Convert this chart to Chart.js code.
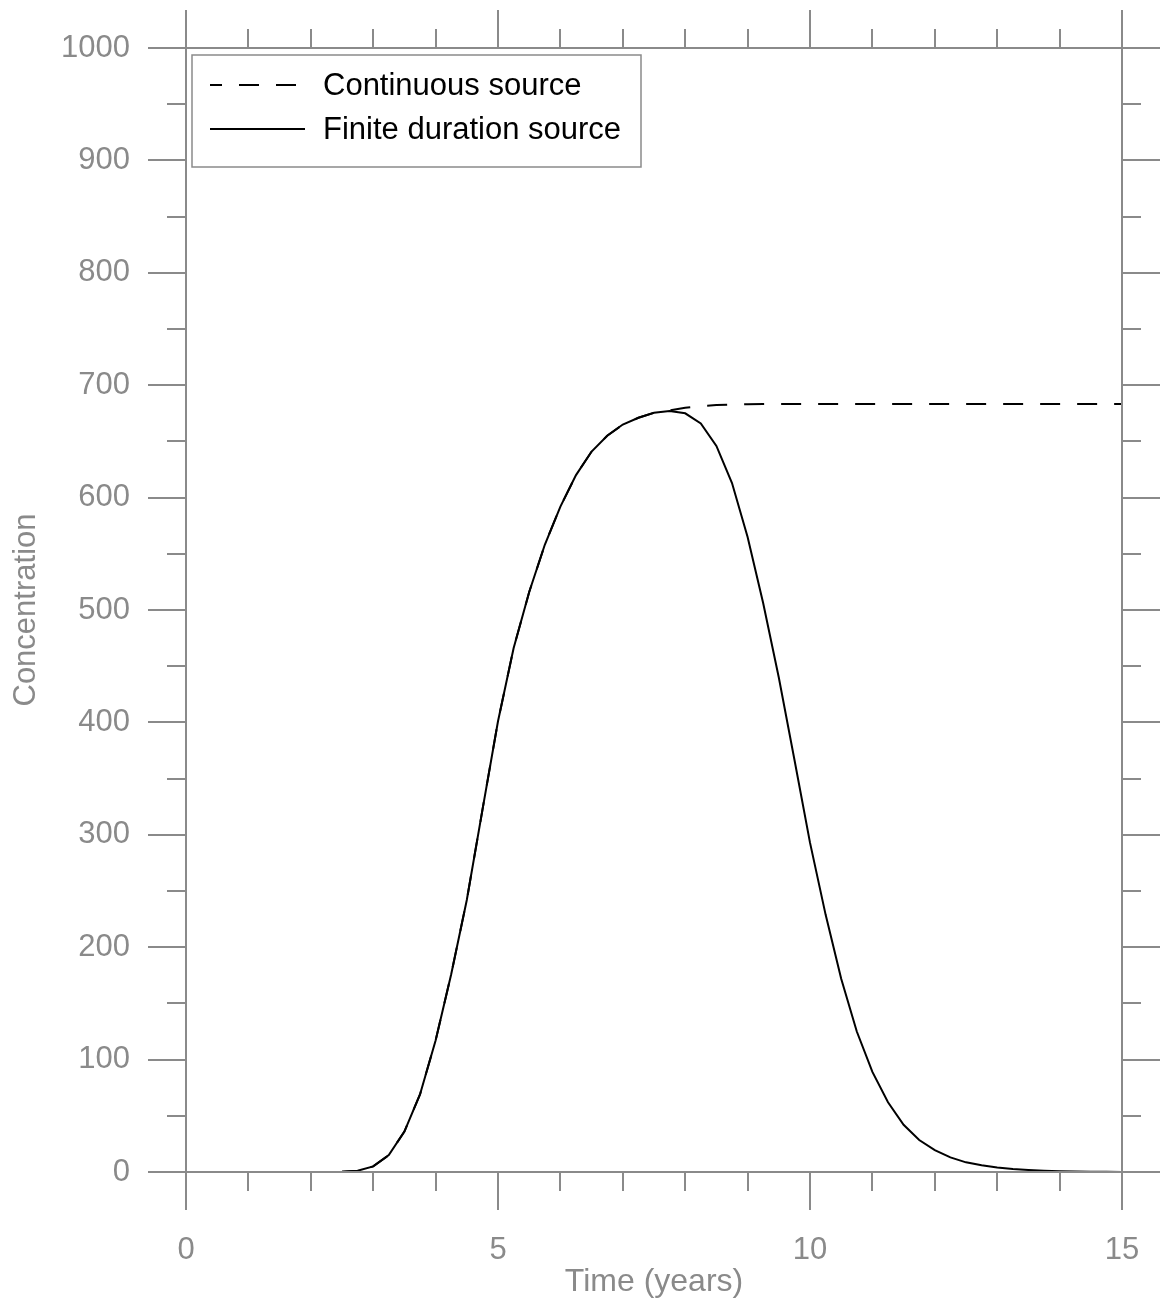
<!DOCTYPE html>
<html>
<head>
<meta charset="utf-8">
<script src="https://cdn.jsdelivr.net/npm/chart.js@4/dist/chart.umd.min.js"></script>
<style>
    body { margin: 0; background: #fff; }
    #wrap { width: 1161px; height: 1303px; position: relative; }
</style>
</head>
<body>
<div id="wrap"><canvas id="concGraph"></canvas></div>
<script>
// 時間 (年) 0.25刻み
const years = [
    0, 0.25, 0.5, 0.75, 1, 1.25, 1.5, 1.75, 2, 2.25, 2.5, 2.75,
    3, 3.25, 3.5, 3.75, 4, 4.25, 4.5, 4.75, 5, 5.25, 5.5, 5.75,
    6, 6.25, 6.5, 6.75, 7, 7.25, 7.5, 7.75, 8, 8.25, 8.5, 8.75,
    9, 9.25, 9.5, 9.75, 10, 10.25, 10.5, 10.75, 11, 11.25, 11.5, 11.75,
    12, 12.25, 12.5, 12.75, 13, 13.25, 13.5, 13.75, 14, 14.25, 14.5, 14.75, 15
];
const continuousSource = [
    0, 0, 0, 0, 0, 0, 0, 0, 0, 0, 0.2, 1.2,
    5, 15, 36, 69, 117, 176, 242, 322, 401, 466, 516, 558,
    592, 620, 641, 655, 665, 671, 675.5, 677.5, 680, 681.5, 682.3, 682.8,
    683, 683.2, 683.3, 683.3, 683.3, 683.3, 683.3, 683.3, 683.3, 683.3, 683.3, 683.3,
    683.3, 683.3, 683.3, 683.3, 683.3, 683.3, 683.3, 683.3, 683.3, 683.3, 683.3, 683.3, 683.3
];
const finiteSource = [
    0, 0, 0, 0, 0, 0, 0, 0, 0, 0, 0.2, 1.2,
    5, 15, 36, 69, 117, 176, 242, 322, 401, 466, 516, 558,
    592, 620, 641, 655, 665, 671, 675.5, 677, 675, 666, 646, 613,
    565, 506, 440, 367, 293, 229, 172, 125, 89, 62, 42, 28.5,
    19.5, 13, 8.6, 6, 4, 2.6, 1.7, 1.1, 0.7, 0.4, 0.3, 0.2, 0.1
];
const seriesLabels = ['Continuous source', 'Finite duration source'];

// 目盛
const xTickLabels = [0, 5, 10, 15];
const xMinorTicks = [0, 1, 2, 3, 4, 5, 6, 7, 8, 9, 10, 11, 12, 13, 14, 15];
const yTickLabels = [0, 100, 200, 300, 400, 500, 600, 700, 800, 900, 1000];
const yMinorTicks = [0, 50, 100, 150, 200, 250, 300, 350, 400, 450, 500, 550, 600, 650, 700, 750, 800, 850, 900, 950, 1000];

const GREY = '#8a8a8a';
const FONT = 'Liberation Sans, Arial, sans-serif';

// 枠と外向きの目盛
const frameTicks = {
    id: 'frameTicks',
    afterDraw(chart) {
        const { ctx, chartArea: a, scales: { x, y } } = chart;
        const major = 38, minor = 19;
        ctx.save();
        ctx.strokeStyle = GREY;
        ctx.lineWidth = 2;
        ctx.beginPath();
        xMinorTicks.forEach(v => {
            const px = Math.round(x.getPixelForValue(v));
            const len = xTickLabels.includes(v) ? major : minor;
            ctx.moveTo(px, a.bottom); ctx.lineTo(px, a.bottom + len);
            ctx.moveTo(px, a.top); ctx.lineTo(px, a.top - len);
        });
        yMinorTicks.forEach(v => {
            const py = Math.round(y.getPixelForValue(v));
            const len = yTickLabels.includes(v) ? major : minor;
            ctx.moveTo(a.left, py); ctx.lineTo(a.left - len, py);
            ctx.moveTo(a.right, py); ctx.lineTo(a.right + len, py);
        });
        ctx.moveTo(a.left, a.top); ctx.lineTo(a.right, a.top);
        ctx.moveTo(a.left, a.bottom); ctx.lineTo(a.right, a.bottom);
        ctx.moveTo(a.left, a.top); ctx.lineTo(a.left, a.bottom);
        ctx.moveTo(a.right, a.top); ctx.lineTo(a.right, a.bottom);
        ctx.stroke();
        ctx.restore();
    }
};

// 凡例 (枠付き、グラフ内左上)
const boxLegend = {
    id: 'boxLegend',
    afterDraw(chart) {
        const { ctx, chartArea: a } = chart;
        const bx = a.left + 6, by = a.top + 7;
        ctx.save();
        ctx.strokeStyle = GREY;
        ctx.lineWidth = 1.5;
        ctx.fillStyle = '#fff';
        ctx.fillRect(bx, by, 449, 112);
        ctx.strokeRect(bx, by, 449, 112);
        chart.data.datasets.forEach((ds, i) => {
            const ly = by + 30 + i * 44;
            ctx.strokeStyle = '#000';
            ctx.lineWidth = 2;
            ctx.setLineDash(ds.borderDash || []);
            ctx.lineDashOffset = 8;
            ctx.beginPath();
            ctx.moveTo(bx + 18, ly);
            ctx.lineTo(bx + 113, ly);
            ctx.stroke();
            ctx.setLineDash([]);
            ctx.fillStyle = '#000';
            ctx.font = '31px ' + FONT;
            ctx.textBaseline = 'middle';
            ctx.fillText(ds.label, bx + 131, ly + 1);
        });
        ctx.restore();
    }
};

const ctx = document.getElementById('concGraph').getContext('2d');
new Chart(ctx, {
    type: 'line',
    data: {
        datasets: [
            {
                label: seriesLabels[0],
                data: years.map((t, i) => ({ x: t, y: continuousSource[i] })),
                borderColor: '#000',
                borderWidth: 2,
                borderDash: [20, 17],
                pointRadius: 0,
                tension: 0
            },
            {
                label: seriesLabels[1],
                data: years.map((t, i) => ({ x: t, y: finiteSource[i] })),
                borderColor: '#000',
                borderWidth: 2,
                pointRadius: 0,
                tension: 0
            }
        ]
    },
    options: {
        responsive: true,
        maintainAspectRatio: false,
        animation: false,
        layout: { padding: { top: 48, right: 39, left: 0, bottom: 0 } },
        plugins: {
            legend: { display: false },
            tooltip: { enabled: false }
        },
        scales: {
            x: {
                type: 'linear',
                min: 0,
                max: 15,
                afterFit: s => { s.height = 131; s.paddingLeft = 0; s.paddingRight = 0; },
                afterBuildTicks: s => { s.ticks = xTickLabels.map(v => ({ value: v })); },
                grid: { display: false, drawTicks: false },
                border: { display: false },
                ticks: { color: GREY, font: { family: FONT, size: 31 }, padding: 60, maxRotation: 0, callback: v => String(v) },
                title: { display: true, text: 'Time (years)', color: GREY, font: { family: FONT, size: 32 }, padding: { top: 0, bottom: 2 } }
            },
            y: {
                type: 'linear',
                min: 0,
                max: 1000,
                afterFit: s => { s.width = 186; s.paddingTop = 0; s.paddingBottom = 0; },
                afterBuildTicks: s => { s.ticks = yTickLabels.map(v => ({ value: v })); },
                grid: { display: false, drawTicks: false },
                border: { display: false },
                ticks: { color: GREY, font: { family: FONT, size: 31 }, padding: 56, callback: v => String(v) },
                title: { display: true, text: 'Concentration', color: GREY, font: { family: FONT, size: 31 }, padding: { top: 8, bottom: 0 } }
            }
        }
    },
    plugins: [frameTicks, boxLegend]
});
</script>
</body>
</html>
